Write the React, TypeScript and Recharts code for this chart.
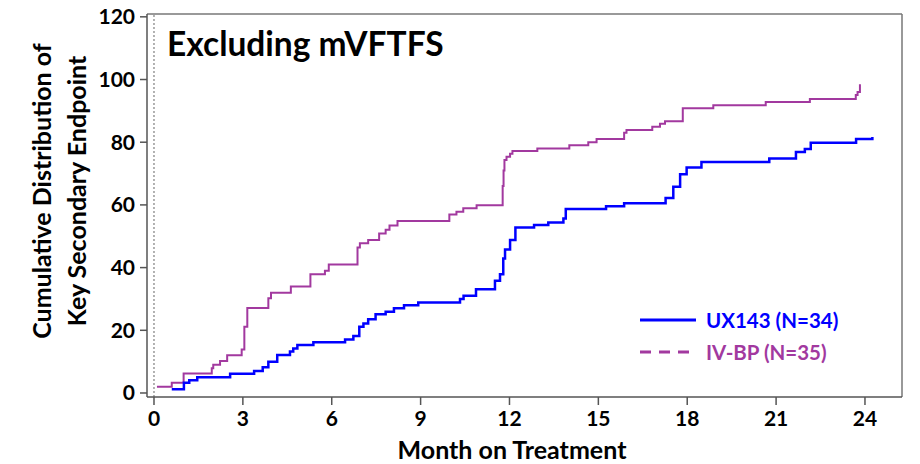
import React from "react";
import { LineChart, Line, XAxis, YAxis, ReferenceLine } from "recharts";

const FONT = "Lato, 'Open Sans', sans-serif";
const BLUE = "#0000ff";
const MAGENTA = "#a2399f";

const monthTicks = [0, 3, 6, 9, 12, 15, 18, 21, 24];
const percentTicks = [0, 20, 40, 60, 80, 100, 120];
const X_DOMAIN = [-0.236, 25.25];
const Y_DOMAIN = [-1.28, 120.9];

// UX143 (N=34) step curve
const ux143Months = [
  0.6, 1.01, 1.19, 1.46, 2.57, 3.38, 3.67, 3.86, 4.16, 4.59, 4.7, 4.84, 5.38,
  6.45, 6.73, 6.93, 7.07, 7.23, 7.48, 7.82, 8.1, 8.44, 8.92, 10.33, 10.45,
  10.87, 11.51, 11.68, 11.79, 11.85, 12.02, 12.2, 12.83, 13.31, 13.82, 13.9,
  15.26, 15.87, 17.27, 17.53, 17.76, 17.98, 18.48, 20.77, 21.67, 21.97, 22.17,
  23.7, 24.25,
];
const ux143Values = [
  1.2, 3.3, 4.1, 5.0, 6.1, 7.0, 8.2, 10.0, 12.1, 13.2, 14.2, 15.3, 16.2, 17.1,
  18.2, 21.1, 22.2, 23.5, 25.1, 25.9, 27.0, 28.0, 28.9, 30.0, 31.0, 33.1, 35.8,
  37.9, 42.9, 45.8, 48.8, 52.8, 53.6, 54.4, 55.7, 58.7, 59.6, 60.5, 62.2, 65.8,
  69.8, 71.9, 73.7, 74.8, 76.9, 77.8, 79.8, 81.0, 81.7,
];

// IV-BP (N=35) step curve
const ivbpMonths = [
  0.1, 0.6, 1.0, 1.95, 2.0, 2.23, 2.47, 2.96, 3.05, 3.15, 3.86, 3.95, 4.62,
  5.28, 5.77, 5.9, 6.87, 6.95, 7.23, 7.6, 7.82, 7.95, 8.22, 9.97, 10.21, 10.44,
  10.89, 11.77, 11.8, 11.83, 11.9, 12.02, 12.1, 12.94, 14.02, 14.66, 14.94,
  15.87, 15.95, 16.82, 17.08, 17.25, 17.85, 18.88, 20.65, 22.14, 23.69, 23.75,
  23.83,
];
const ivbpValues = [
  2.0, 3.3, 6.2, 7.9, 9.0, 10.2, 12.0, 13.9, 21.1, 27.1, 30.2, 32.0, 34.0,
  37.9, 39.0, 41.0, 46.4, 47.8, 48.8, 50.9, 52.1, 53.4, 54.9, 56.9, 57.8, 58.9,
  59.9, 66.0, 71.0, 74.3, 75.4, 76.3, 77.2, 78.0, 79.0, 80.0, 81.0, 83.0, 83.9,
  84.9, 85.9, 86.7, 90.8, 91.8, 92.8, 93.8, 95.1, 96.0, 98.5,
];

const ux143Data = ux143Months.map((month, i) => ({ month, value: ux143Values[i] }));
const ivbpData = ivbpMonths.map((month, i) => ({ month, value: ivbpValues[i] }));

const legendItems = [
  { name: "UX143 (N=34)", color: BLUE, dash: undefined },
  { name: "IV-BP (N=35)", color: MAGENTA, dash: "11 8" },
];

const tickStyle = { fill: "#000", fontSize: 21, fontWeight: 700, fontFamily: FONT };

function YLabel() {
  return (
    <g transform="translate(60, 191) rotate(-90)">
      <text x={0} y={-9} textAnchor="middle" fontFamily={FONT} fontWeight={700} fontSize={25} fill="#000">
        Cumulative Distribution of
      </text>
      <text x={0} y={26} textAnchor="middle" fontFamily={FONT} fontWeight={700} fontSize={25} fill="#000">
        Key Secondary Endpoint
      </text>
    </g>
  );
}

function XLabel() {
  return (
    <text x={512} y={459} textAnchor="middle" fontFamily={FONT} fontWeight={700} fontSize={25} fill="#000">
      Month on Treatment
    </text>
  );
}

export default function App() {
  return (
    <div
      style={{
        position: "absolute",
        left: 0,
        top: 0,
        width: 920,
        height: 464,
        background: "#fff",
      }}
    >
      <LineChart
        width={920}
        height={464}
        margin={{ top: 14, right: 18, bottom: 0, left: 0 }}
      >
        <XAxis
          dataKey="month"
          type="number"
          domain={X_DOMAIN}
          ticks={monthTicks}
          allowDataOverflow
          height={67}
          tickSize={8}
          tickMargin={6}
          stroke="#555"
          strokeWidth={1.5}
          tick={tickStyle}
          label={<XLabel />}
        />
        <YAxis
          type="number"
          domain={Y_DOMAIN}
          ticks={percentTicks}
          allowDataOverflow
          width={147}
          tickSize={7}
          tickMargin={5}
          stroke="#555"
          strokeWidth={1.5}
          tick={tickStyle}
          label={<YLabel />}
        />
        <ReferenceLine y={Y_DOMAIN[1]} stroke="#777" strokeWidth={1.5} />
        <ReferenceLine x={X_DOMAIN[1]} stroke="#777" strokeWidth={1.5} />
        <ReferenceLine x={0} stroke="#666" strokeDasharray="2 2" strokeWidth={1} />
        <Line
          data={ivbpData}
          dataKey="value"
          name="IV-BP (N=35)"
          type="stepAfter"
          stroke={MAGENTA}
          strokeWidth={2}
          dot={false}
          isAnimationActive={false}
        />
        <Line
          data={ux143Data}
          dataKey="value"
          name="UX143 (N=34)"
          type="stepAfter"
          stroke={BLUE}
          strokeWidth={2.5}
          dot={false}
          isAnimationActive={false}
        />
      </LineChart>
      <div
        style={{
          position: "absolute",
          left: 167,
          top: 23,
          fontFamily: FONT,
          fontWeight: 700,
          fontSize: 33.5,
          color: "#000",
        }}
      >
        Excluding mVFTFS
      </div>
      <div style={{ position: "absolute", left: 639, top: 304, fontFamily: FONT }}>
        {legendItems.map((item) => (
          <div key={item.name} style={{ display: "flex", alignItems: "center", height: 32 }}>
            <svg width={58} height={10} style={{ marginRight: 9 }}>
              <line
                x1={1}
                y1={5}
                x2={57}
                y2={5}
                stroke={item.color}
                strokeWidth={3}
                strokeDasharray={item.dash}
              />
            </svg>
            <span style={{ color: item.color, fontWeight: 700, fontSize: 20.5 }}>
              {item.name}
            </span>
          </div>
        ))}
      </div>
    </div>
  );
}
